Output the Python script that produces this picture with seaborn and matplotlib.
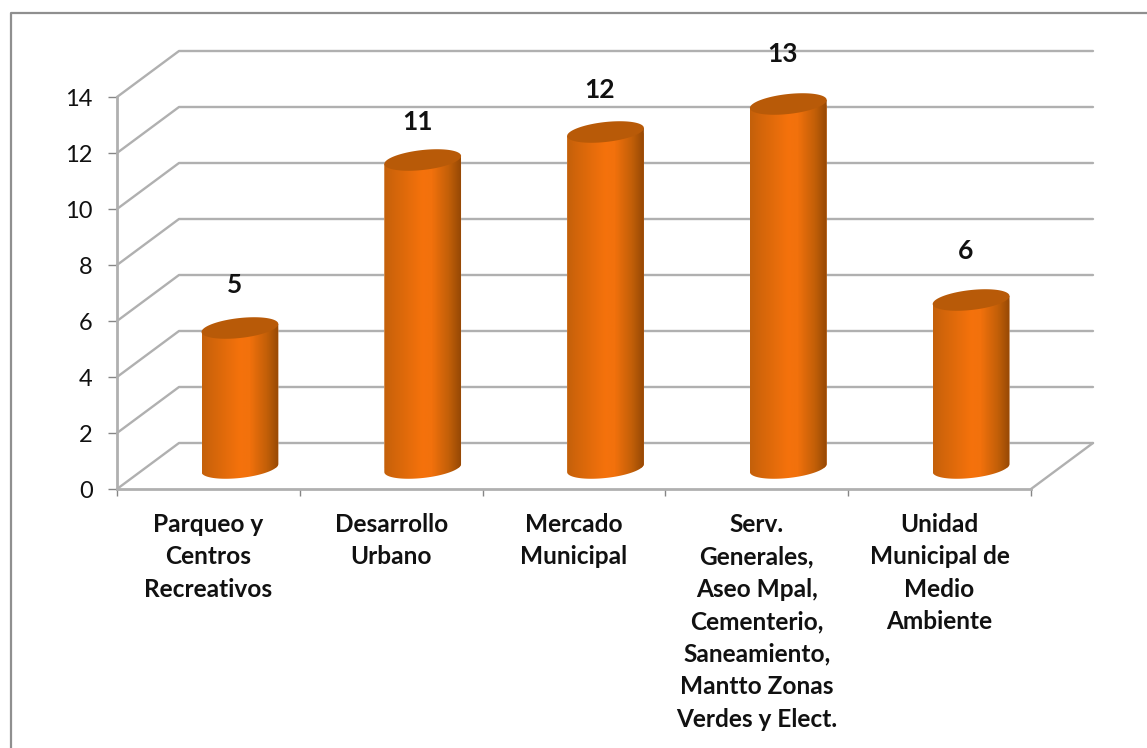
import numpy as np
import pandas as pd
import matplotlib
matplotlib.use('Agg')
import matplotlib.pyplot as plt
from matplotlib.colors import LinearSegmentedColormap
from matplotlib.lines import Line2D
from matplotlib.patches import Polygon
import seaborn as sns

categories = ['Parqueo y\nCentros\nRecreativos', 'Desarrollo\nUrbano', 'Mercado\nMunicipal',
              'Serv.\nGenerales,\nAseo Mpal,\nCementerio,\nSaneamiento,\nMantto Zonas\nVerdes y Elect.',
              'Unidad\nMunicipal de\nMedio\nAmbiente']
values = [5, 11, 12, 13, 6]
y_ticks = [0, 2, 4, 6, 8, 10, 12, 14]

W, H = 1147, 748
sns.set_theme(style='white')
plt.rcParams['font.family'] = ['Lato', 'DejaVu Sans']

# plot area in pixels
LEFT, RIGHT, TOP, BOTTOM = 117, 1031, 97, 489
UNIT_X = (RIGHT - LEFT) / 5
UNIT_Y = (BOTTOM - TOP) / 14
BACK_X, BACK_Y = 62 / UNIT_X, 46 / UNIT_Y


def make_axes(shift_x=0, shift_y=0):
    return fig.add_axes([(LEFT + shift_x) / W, (H - BOTTOM - shift_y) / H,
                         (RIGHT - LEFT) / W, (BOTTOM - TOP) / H])


fig = plt.figure(figsize=(W / 100, H / 100), dpi=100, facecolor='white')

# the frame only shows on the top and left
frame_x, frame_y = 11 / W, 1 - 13 / H
fig.add_artist(Line2D([frame_x, frame_x, 1], [0, frame_y, frame_y], transform=fig.transFigure,
                      color='#8f8f8f', lw=1.6))

ax = make_axes()
ax.patch.set_visible(False)
ax.set_xlim(-0.5, 4.5)
ax.set_ylim(0, 14)

# walls
grid_color = '#b0b0b0'
for v in y_ticks:
    ax.plot([-0.5, -0.5 + BACK_X, 4.5 + BACK_X], [v, v + BACK_Y, v + BACK_Y],
            color=grid_color, lw=1.7, clip_on=False, zorder=1)
ax.plot([4.5, 4.5 + BACK_X], [0, BACK_Y], color=grid_color, lw=1.7, clip_on=False, zorder=1)

# axes
for side in ['top', 'right']:
    ax.spines[side].set_visible(False)
for side in ['left', 'bottom']:
    ax.spines[side].set_color(grid_color)
    ax.spines[side].set_linewidth(2)
ax.set_yticks(y_ticks)
ax.set_xticks(np.arange(-0.5, 5), labels=[])
ax.set_xticks(np.arange(5), labels=categories, minor=True)
ax.tick_params(axis='y', length=6.5, width=1, color='#868686', labelsize=17, labelcolor='#111111', pad=11, left=True)
ax.tick_params(axis='x', which='major', length=5, width=1, color='#868686', bottom=True)
ax.tick_params(axis='x', which='minor', length=0, labelsize=17.6, labelcolor='#111111', pad=17)
for label in ax.get_xticklabels(minor=True):
    label.set_fontweight('bold')
    label.set_linespacing(1.5)

# bars sit halfway into the depth of the chart
bar_ax = make_axes(31.5, -21)
bar_ax.patch.set_visible(False)
df = pd.DataFrame({'category': categories, 'value': values})
sns.barplot(data=df, x='category', y='value', color='#f5720c', width=0.42, saturation=1, ax=bar_ax)
bar_ax.axis('off')

shade = LinearSegmentedColormap.from_list('cyl', [(0, '#c4600a'), (0.12, '#d2650a'), (0.5, '#f5720c'),
                                                  (0.62, '#f2710c'), (0.85, '#c25f08'), (1, '#974905')])
half_w = 0.21
t = np.linspace(0, 2 * np.pi, 121)
tilt = 4 / UNIT_Y
label_nudge = [43, 38, 42, 50, 49]
for i, (bar, v) in enumerate(zip(bar_ax.patches, values)):
    ex = i + half_w * np.cos(t)
    ey_off = (10 / UNIT_Y) * np.sin(t) + tilt * np.cos(t)
    lower = t >= np.pi
    body = np.vstack([np.column_stack([ex[lower], ey_off[lower]]),
                      [[i + half_w, v + tilt]], [[i - half_w, v - tilt]]])
    clip = Polygon(body, closed=True, transform=bar_ax.transData)
    bar.set_clip_path(clip)
    img = bar_ax.imshow(np.linspace(0, 1, 80).reshape(1, -1), cmap=shade, aspect='auto', zorder=3,
                        extent=[i - half_w, i + half_w, -1, v + 1], interpolation='bilinear')
    # image would otherwise stop at the axes edge, the base of the cylinder hangs below it
    img.set_clip_path(clip)
    img.set_clip_box(fig.bbox)
    bar_ax.fill(ex, v + ey_off, color='#b85a08', lw=0, zorder=4, clip_on=False)
    bar_ax.annotate(str(v), (i, v), xytext=(-4, label_nudge[i] * 0.72), textcoords='offset points',
                    ha='center', va='center', fontsize=19, fontweight='bold', color='#111111',
                    annotation_clip=False)
bar_ax.set_xlim(-0.5, 4.5)
bar_ax.set_ylim(0, 14)

fig.savefig('out.png', dpi=100)
